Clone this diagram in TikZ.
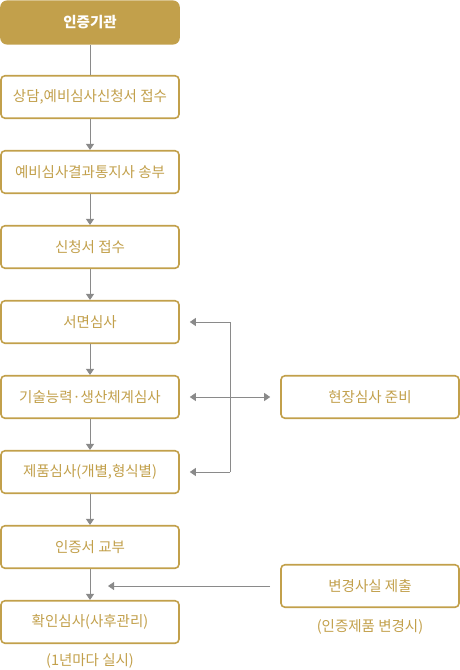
\documentclass[tikz,border=0pt]{standalone}
\usepackage{fontspec}
\setmainfont{Noto Sans CJK KR}
\usetikzlibrary{arrows.meta,positioning}
\definecolor{gold}{HTML}{C2A04B}
\definecolor{link}{HTML}{8A8A8A}
\tikzset{
  stepbox/.style={
    rounded corners=4pt,
    draw=gold,
    line width=1.6pt,
    fill=white,
    text=gold,
    font=\fontsize{14.5}{17}\selectfont,
    minimum width=178pt,
    minimum height=42.5pt,
    inner sep=0pt
  },
  headbox/.style={stepbox, fill=gold, text=white, rounded corners=6pt, font=\fontsize{14.5}{17}\selectfont\bfseries},
  note/.style={text=gold, font=\fontsize{14.5}{17}\selectfont},
  flow/.style={draw=link, line width=0.8pt, -{Triangle[length=6pt,width=8pt]}},
  flowboth/.style={draw=link, line width=0.8pt, {Triangle[length=6pt,width=8pt]}-{Triangle[length=6pt,width=8pt]}},
  plain/.style={draw=link, line width=0.8pt}
}
\begin{document}
\begin{tikzpicture}[x=1pt,y=1pt]
\useasboundingbox (0,0) rectangle (460,-670);

% --- Main column ---
\node[headbox] (agency) at (90,-22.5) {인증기관};
\node[stepbox] (consult) at (90,-97) {상담,예비심사신청서 접수};
\node[stepbox] (notice) at (90,-172) {예비심사결과통지사 송부};
\node[stepbox] (apply) at (90,-247) {신청서 접수};
\node[stepbox] (docs) at (90,-322) {서면심사};
\node[stepbox] (tech) at (90,-397) {기술능력·생산체계심사};
\node[stepbox] (product) at (90,-472) {제품심사(개별,형식별)};
\node[stepbox] (cert) at (90,-547) {인증서 교부};
\node[stepbox] (check) at (90,-622) {확인심사(사후관리)};
\node[note] (yearly) at (90,-661) {(1년마다 실시)};

% --- Side boxes ---
\node[stepbox] (site) at (370,-397) {현장심사 준비};
\node[stepbox] (change) at (370,-586) {변경사실 제출};
\node[note] (changenote) at (370,-627) {(인증제품 변경시)};

% Main flow.
\draw[plain] (agency) -- (consult);
\draw[flow] (consult) -- (notice);
\draw[flow] (notice) -- (apply);
\draw[flow] (apply) -- (docs);
\draw[flow] (docs) -- (tech);
\draw[flow] (tech) -- (product);
\draw[flow] (product) -- (cert);
\draw[flow] (cert) -- (check);

% --- Site inspection bracket ---
\coordinate (bracket) at (230,-397);
\draw[flow] (bracket |- docs) -- ([xshift=10pt]docs.east);
\draw[flow] (bracket |- product) -- ([xshift=10pt]product.east);
\draw[plain] (bracket |- docs) -- (bracket |- product);
\draw[flowboth] ([xshift=10pt]tech.east) -- ([xshift=-10pt]site.west);

% --- Change report ---
\draw[flow] ([xshift=-10pt]change.west) -- (108,-586);

\end{tikzpicture}
\end{document}
